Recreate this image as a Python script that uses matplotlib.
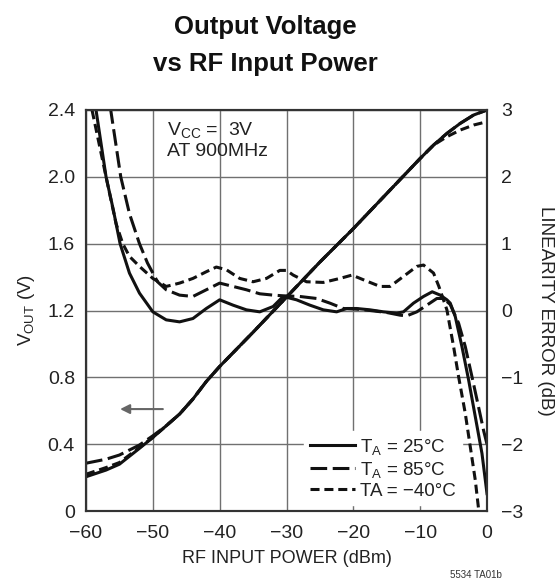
import matplotlib
matplotlib.use('Agg')
import matplotlib.pyplot as plt

plt.rcParams['font.family'] = ['Liberation Sans', 'DejaVu Sans']
plt.rcParams['mathtext.fontset'] = 'custom'
plt.rcParams['mathtext.rm'] = 'Liberation Sans'
plt.rcParams['mathtext.it'] = 'Liberation Sans'
plt.rcParams['lines.scale_dashes'] = False

# output voltage vs input power (V)
pin_v = [-60, -57, -55, -52, -50, -48, -46, -44, -42, -40, -35, -30, -25, -20,
         -15, -10, -8, -6, -4, -2, 0]
vout_25 = [0.205, 0.245, 0.28, 0.375, 0.44, 0.51, 0.58, 0.67, 0.775, 0.865, 1.07,
           1.28, 1.49, 1.69, 1.90, 2.11, 2.19, 2.26, 2.32, 2.37, 2.40]
vout_85 = [0.286, 0.31, 0.335, 0.395, 0.45, 0.51, 0.58, 0.67, 0.775, 0.865, 1.07,
           1.28, 1.49, 1.69, 1.90, 2.11, 2.19, 2.26, 2.32, 2.37, 2.40]
vout_m40 = [0.22, 0.26, 0.29, 0.38, 0.44, 0.51, 0.58, 0.67, 0.775, 0.865, 1.07,
            1.28, 1.49, 1.69, 1.90, 2.11, 2.19, 2.24, 2.28, 2.31, 2.33]

# linearity error (dB)
pin_e25 = [-60.0, -58.5, -57.0, -55.9, -54.9, -53.5, -52.0, -50.0, -48.0, -46.0,
           -44.0, -42.0, -40.0, -38.0, -36.0, -34.0, -32.0, -30.5, -28.5, -26.5,
           -24.5, -22.5, -21.0, -19.5, -17.5, -15.5, -13.5, -12.5, -11.0, -9.5,
           -8.2, -7.0, -6.0, -5.5, -4.75, -3.75, -2.75, -1.75, -0.75, 0.0]
err_25 = [3.6, 3.0, 2.0, 1.5, 1.0, 0.56, 0.26, -0.02, -0.14, -0.17,
          -0.12, 0.03, 0.16, 0.08, 0.01, -0.02, 0.06, 0.21, 0.16, 0.08,
          0.01, -0.02, 0.03, 0.03, 0.01, -0.02, -0.04, -0.02, 0.11, 0.21,
          0.28, 0.23, 0.16, 0.11, -0.09, -0.54, -1.04, -1.59, -2.14, -2.74]

pin_e85 = [-57.3, -56.3, -54.8, -53.5, -52.0, -50.8, -49.3, -48.0, -46.0, -44.0,
           -42.0, -40.0, -38.0, -36.0, -34.0, -32.0, -30.5, -28.0, -25.5, -23.5,
           -21.5, -19.5, -17.5, -15.0, -13.0, -12.0, -10.5, -9.0, -7.5, -6.5,
           -5.5, -4.25, -3.25, -2.25, -1.25, -0.5, 0.0]
err_85 = [3.7, 3.0, 2.0, 1.45, 1.0, 0.71, 0.43, 0.31, 0.23, 0.21,
          0.31, 0.41, 0.36, 0.31, 0.25, 0.23, 0.22, 0.21, 0.18, 0.11,
          0.03, 0.02, 0.0, -0.03, -0.07, -0.08, -0.02, 0.08, 0.18, 0.18,
          0.09, -0.19, -0.54, -0.99, -1.45, -1.8, -2.0]

pin_em40 = [-60.0, -59.1, -57.0, -55.5, -54.5, -53.5, -52.0, -50.0, -48.0, -46.0,
            -44.0, -42.0, -40.5, -39.0, -37.0, -35.0, -33.0, -31.0, -30.0, -29.0,
            -27.0, -24.5, -22.0, -20.2, -18.5, -16.0, -14.5, -12.5, -10.5, -9.5,
            -8.0, -7.2, -6.0, -5.0, -4.25, -3.25, -2.5, -1.75, -1.25, -1.0]
err_m40 = [3.4, 3.0, 2.0, 1.3, 1.0, 0.81, 0.66, 0.48, 0.36, 0.41,
           0.48, 0.58, 0.65, 0.61, 0.48, 0.43, 0.48, 0.6, 0.6, 0.53,
           0.43, 0.42, 0.48, 0.53, 0.46, 0.36, 0.36, 0.51, 0.66, 0.68,
           0.56, 0.36, 0.01, -0.54, -0.99, -1.54, -2.04, -2.54, -2.98, -3.3]

x_ticks = [-60, -50, -40, -30, -20, -10, 0]
v_ticks = [0, 0.4, 0.8, 1.2, 1.6, 2.0, 2.4]
e_ticks = [-3, -2, -1, 0, 1, 2, 3]

ink = '#111111'
txt = '#222222'
long_dash = (0, (12, 4))
short_dash = (0, (6.5, 3.5))
lw = 2.2

fig = plt.figure(figsize=(5.6, 5.85), dpi=100)
ax = fig.add_axes([86 / 560, 1 - 511 / 585, 401 / 560, 401 / 585])
ax2 = ax.twinx()

ax.plot(pin_v, vout_25, color=ink, lw=lw, ls='-')
ax.plot(pin_v, vout_85, color=ink, lw=lw, ls=long_dash)
ax.plot(pin_v, vout_m40, color=ink, lw=lw, ls=short_dash)

l25, = ax2.plot(pin_e25, err_25, color=ink, lw=lw, ls='-')
l85, = ax2.plot(pin_e85, err_85, color=ink, lw=lw, ls=long_dash)
lm40, = ax2.plot(pin_em40, err_m40, color=ink, lw=lw, ls=short_dash)

ax.set_xlim(-60, 0)
ax.set_ylim(0, 2.4)
ax2.set_ylim(-3, 3)
ax.set_xticks(x_ticks)
ax.set_yticks(v_ticks)
ax.set_yticklabels(['0', '0.4', '0.8', '1.2', '1.6', '2.0', '2.4'])
ax2.set_yticks(e_ticks)
ax.grid(True, color='#707070', lw=1.0)
ax.set_axisbelow(True)

for a in (ax, ax2):
    for s in a.spines.values():
        s.set_color('#333333')
        s.set_linewidth(1.5)
ax.tick_params(axis='both', length=0, labelsize=14, colors=txt)
ax.tick_params(axis='x', pad=10)
ax.tick_params(axis='y', pad=8)
ax2.tick_params(axis='y', length=0, labelsize=14, colors=txt, pad=10)

ax.set_xlabel('RF INPUT POWER (dBm)', fontsize=13, color=txt, labelpad=6)
ax.set_ylabel(r'V$_{\mathregular{OUT}}$ (V)', fontsize=13.5, color=txt, labelpad=8)
ax2.set_ylabel('LINEARITY ERROR (dB)', fontsize=13.5, color=txt,
               rotation=-90, labelpad=22)

ax.text(0.202, 0.975, 'V$_{\\mathregular{CC}}$ =  3V\nAT 900MHz', transform=ax.transAxes,
        fontsize=14, color=txt, va='top', ha='left', linespacing=1.2)

ax.annotate('', xy=(-54.9, 0.61), xytext=(-48.5, 0.61),
            arrowprops=dict(arrowstyle='-|>', color='#666666', lw=1.5,
                            mutation_scale=14, shrinkA=0, shrinkB=0))

leg = ax2.legend([l25, l85, lm40],
                 [r'T$_{\mathregular{A}}$ = 25°C', r'T$_{\mathregular{A}}$ = 85°C',
                  'TA = \u221240°C'],
                 loc='lower left', bbox_to_anchor=(0.53, 0.0), fontsize=13.5,
                 frameon=True, fancybox=False, framealpha=1.0, edgecolor='white',
                 handlelength=2.4, handletextpad=0.3, labelspacing=0.15,
                 borderpad=0.3, borderaxespad=0.3)
for t in leg.get_texts():
    t.set_color(txt)

fig.text(265 / 560, 1 - 27 / 585, 'Output Voltage', ha='center', va='center',
         fontsize=18.5, fontweight='bold', color=ink)
fig.text(265 / 560, 1 - 64 / 585, 'vs RF Input Power', ha='center', va='center',
         fontsize=18.5, fontweight='bold', color=ink)
fig.text(476 / 560, 1 - 575 / 585, '5534 TA01b', ha='center', va='center',
         fontsize=7, color='#333333')

plt.savefig('out.png', dpi=100)
